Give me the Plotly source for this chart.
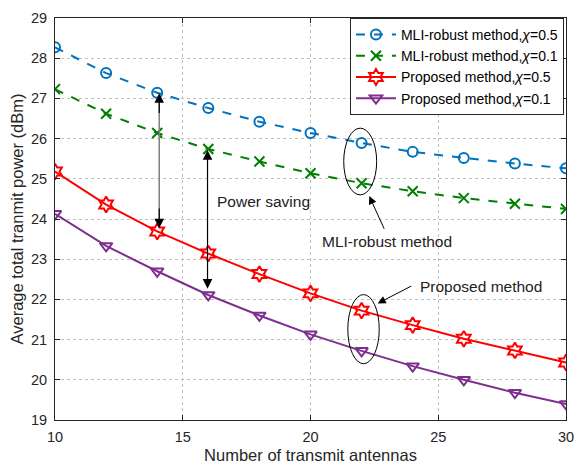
import plotly.graph_objects as go

antennas = [10, 12, 14, 16, 18, 20, 22, 24, 26, 28, 30]
mli_05 = [28.27, 27.63, 27.14, 26.76, 26.42, 26.14, 25.89, 25.67, 25.52, 25.38, 25.26]
mli_01 = [27.23, 26.62, 26.14, 25.74, 25.43, 25.14, 24.89, 24.69, 24.52, 24.38, 24.25]
prop_05 = [25.18, 24.36, 23.69, 23.14, 22.63, 22.15, 21.72, 21.36, 21.02, 20.73, 20.43]
prop_01 = [24.13, 23.33, 22.70, 22.11, 21.60, 21.13, 20.72, 20.34, 20.00, 19.68, 19.40]

FONT = "Liberation Sans, Arial, sans-serif"

fig = go.Figure()

series = [
    ("MLI-robust method,<i>χ</i>=0.5", mli_05, "#0072BD", "dash", "circle-open", 10),
    ("MLI-robust method,<i>χ</i>=0.1", mli_01, "#008000", "dash", "x-thin-open", 10),
    ("Proposed method,<i>χ</i>=0.5", prop_05, "#FF0000", "solid", "hexagram-open", 12),
    ("Proposed method,<i>χ</i>=0.1", prop_01, "#7E2F8E", "solid", "triangle-down-open", 11),
]
for name, ys, color, dash, sym, size in series:
    fig.add_trace(go.Scatter(
        x=antennas, y=ys, name=name, mode="lines+markers",
        line=dict(color=color, width=2, dash=dash),
        marker=dict(symbol=sym, size=size, color=color,
                    line=dict(color=color, width=2)),
    ))

# power saving arrows
fig.add_shape(type="line", x0=14.08, x1=14.08, y0=27.0, y1=23.9,
              line=dict(color="#808080", width=1.5))
for tip, tail in [(27.13, 26.6), (23.77, 24.3)]:
    fig.add_annotation(x=14.08, y=tip, ax=14.08, ay=tail, axref="x", ayref="y",
                       xref="x", yref="y", text="", showarrow=True,
                       arrowhead=2, arrowsize=1.6, arrowwidth=1.2, arrowcolor="black")
fig.add_annotation(x=15.97, y=25.71, ax=15.97, ay=22.23, axref="x", ayref="y",
                   text="", showarrow=True, arrowhead=2, arrowsize=1.6,
                   arrowwidth=1.2, arrowcolor="black", arrowside="end+start")
fig.add_annotation(x=18.17, y=24.44, text="Power saving", showarrow=False,
                   font=dict(family=FONT, size=15.5, color="#222"))

# ellipses
fig.add_shape(type="circle", x0=21.30, x1=22.59, y0=24.60, y1=26.26,
              line=dict(color="black", width=1))
fig.add_shape(type="circle", x0=21.46, x1=22.69, y0=20.40, y1=22.12,
              line=dict(color="black", width=1))

fig.add_annotation(x=22.30, y=24.57, ax=22.91, ay=23.72, axref="x", ayref="y",
                   text="", showarrow=True, arrowhead=2, arrowsize=1.6,
                   arrowwidth=1, arrowcolor="black")
fig.add_annotation(x=22.99, y=23.44, text="MLI-robust method", showarrow=False,
                   font=dict(family=FONT, size=15.5, color="#222"))
fig.add_annotation(x=22.63, y=21.90, ax=24.0, ay=22.35, axref="x", ayref="y",
                   text="", showarrow=True, arrowhead=2, arrowsize=1.6,
                   arrowwidth=1, arrowcolor="black")
fig.add_annotation(x=26.67, y=22.31, text="Proposed method", showarrow=False,
                   font=dict(family=FONT, size=15.5, color="#222"))

axis_common = dict(
    showgrid=True, gridcolor="#c0c0c0", griddash="dot", gridwidth=1,
    showline=True, linecolor="#262626", linewidth=1, mirror="allticks",
    ticks="inside", ticklen=5, tickcolor="#262626",
    tickfont=dict(family=FONT, size=14.5, color="#262626"),
    ticklabeloverflow="allow",
    zeroline=False,
)
fig.update_xaxes(range=[10, 30], tickvals=[10, 15, 20, 25, 30],
                 ticklabelstandoff=4,
                 title=dict(text="Number of transmit antennas", standoff=5,
                            font=dict(family=FONT, size=16.5, color="#262626")),
                 **axis_common)
fig.update_yaxes(range=[19, 29], dtick=1,
                 ticklabelstandoff=4,
                 title=dict(text="Average total tranmit power (dBm)", standoff=6,
                            font=dict(family=FONT, size=16.5, color="#262626")),
                 **axis_common)

# page body has an 8px margin, so the figure is sized to fit inside the window
fig.update_layout(
    width=568, height=456,
    margin=dict(l=47, r=2, t=5, b=41),
    plot_bgcolor="white", paper_bgcolor="white",
    font=dict(family=FONT, color="#262626"),
    legend=dict(x=0.996, y=1.0, xanchor="right", yanchor="top",
                bgcolor="white", bordercolor="#262626", borderwidth=1,
                font=dict(family=FONT, size=14, color="black"),
                tracegroupgap=0, itemwidth=40),
    showlegend=True,
)

fig.write_html("out.html")
